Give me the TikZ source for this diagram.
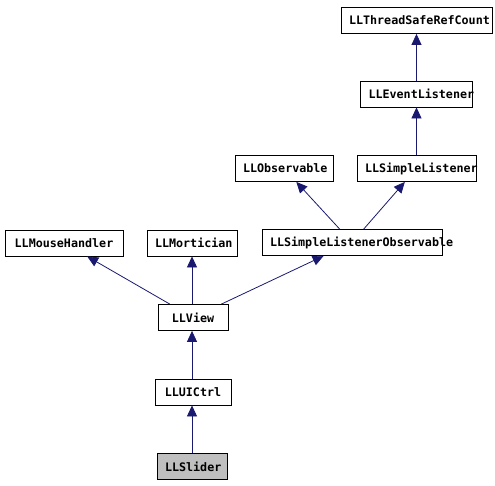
\documentclass[tikz,border=0pt]{standalone}
\usepackage{fontspec}
\setmonofont{DejaVu Sans Mono}
\usepackage{tikz}
\usetikzlibrary{arrows.meta}
\definecolor{edgeblue}{HTML}{191970}
\definecolor{basegray}{HTML}{BFBFBF}

\begin{document}
\begin{tikzpicture}[x=1pt,y=-1pt,
        cls/.style={draw, line width=0.8pt, text width=#1, align=center,
            inner xsep=8pt, inner ysep=0pt, minimum height=26pt,
            font=\ttfamily\bfseries\fontsize{11.7}{12}\selectfont},
        inh/.style={draw=edgeblue, line width=0.8pt,
            -{Triangle[length=11pt,width=10pt,fill=edgeblue]}}]
        \useasboundingbox (0,0) rectangle (495,485);
        % --- Top chain ---
        \node[cls=135pt] (tsrc) at (416.5,20.5) {LLThreadSafeRefCount};
        \node[cls=96pt] (evl) at (416.5,94) {LLEventListener};
        \node[cls=82pt] (obs) at (284,168.5) {LLObservable};
        \node[cls=103pt] (sl) at (416.5,168.5) {LLSimpleListener};
        % --- Middle row ---
        \node[cls=102pt] (mh) at (64,243) {LLMouseHandler};
        \node[cls=74pt] (mort) at (192,243) {LLMortician};
        \node[cls=164pt] (slo) at (352,242.5) {LLSimpleListenerObservable};
        % --- Bottom chain ---
        \node[cls=54pt] (view) at (193,317.5) {LLView};
        \node[cls=60pt] (uic) at (193,392) {LLUICtrl};
        \node[cls=54pt, fill=basegray] (slider) at (192,466.5) {LLSlider};
        % --- Inheritance ---
        \draw[inh] (evl) -- (tsrc);
        \draw[inh] (sl) -- (evl);
        \draw[inh] (slo) -- (obs);
        \draw[inh] (slo) -- (sl);
        \draw[inh] (view) -- (mh);
        \draw[inh] (view.north -| mort) -- (mort);
        \draw[inh] (view) -- (slo);
        \draw[inh] (uic.north -| mort) -- (view.south -| mort);
        \draw[inh] (slider) -- (uic.south -| slider);
\end{tikzpicture}
\end{document}
